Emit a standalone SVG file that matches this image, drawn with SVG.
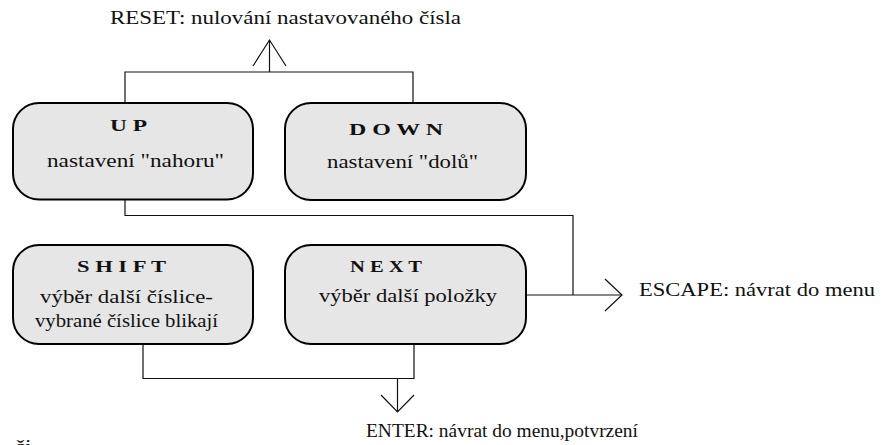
<svg xmlns="http://www.w3.org/2000/svg" width="881" height="445" viewBox="0 0 881 445">
<style>
.box{fill:#e6e6e6;stroke:#000;stroke-width:2}
.t{font-family:"Liberation Serif","Times New Roman",serif;font-size:19px;fill:#111}
.b{font-family:"Liberation Serif","Times New Roman",serif;font-size:16px;font-weight:bold;fill:#111}
.c{fill:none;stroke:#111;stroke-width:1.2}
</style>
<rect width="881" height="445" fill="#fff"/>
<g id="connectors">
<path class="c" d="M125 103V72H413V103M269.5 72V40"/>
<polyline class="c" points="253,66 269.5,40 286,66"/>
<path class="c" d="M125 199V215.5H573V295M526 295H622"/>
<polyline class="c" points="605,279 622,295 605,311"/>
<path class="c" d="M143 344V378.5H414V344M397.5 378.5V412"/>
<polyline class="c" points="381,395 397.5,412 414,395"/>
</g>
<g id="up">
<rect class="box" x="13" y="103" width="240" height="96.5" rx="26"/>
<text class="b" x="110" y="131" textLength="37" lengthAdjust="spacingAndGlyphs">U P</text>
<text class="t" x="47" y="167" textLength="177" lengthAdjust="spacingAndGlyphs">nastavení "nahoru"</text>
</g>
<g id="down">
<rect class="box" x="285" y="103" width="241" height="97" rx="26"/>
<text class="b" x="349" y="135" textLength="94" lengthAdjust="spacingAndGlyphs">D O W N</text>
<text class="t" x="327" y="168" textLength="151" lengthAdjust="spacingAndGlyphs">nastavení "dolů"</text>
</g>
<g id="shift">
<rect class="box" x="13" y="245" width="240" height="99" rx="26"/>
<text class="b" x="77" y="272" textLength="89" lengthAdjust="spacingAndGlyphs">S H I F T</text>
<text class="t" x="40" y="303" textLength="173" lengthAdjust="spacingAndGlyphs">výběr další číslice-</text>
<text class="t" x="35" y="327" textLength="183" lengthAdjust="spacingAndGlyphs">vybrané číslice blikají</text>
</g>
<g id="next">
<rect class="box" x="285" y="245" width="241" height="99" rx="26"/>
<text class="b" x="350" y="272" textLength="72" lengthAdjust="spacingAndGlyphs">N E X T</text>
<text class="t" x="319" y="302" textLength="178" lengthAdjust="spacingAndGlyphs">výběr další položky</text>
</g>
<g id="reset">
<text class="t" x="110" y="24" textLength="351" lengthAdjust="spacingAndGlyphs">RESET: nulování nastavovaného čísla</text>
</g>
<g id="escape">
<text class="t" x="639" y="296" textLength="236" lengthAdjust="spacingAndGlyphs">ESCAPE: návrat do menu</text>
</g>
<g id="enter">
<text class="t" x="366" y="437" textLength="272" lengthAdjust="spacingAndGlyphs">ENTER: návrat do menu,potvrzení</text>
</g>
<text class="t" x="14.5" y="453" textLength="17" lengthAdjust="spacingAndGlyphs">či</text>
</svg>
